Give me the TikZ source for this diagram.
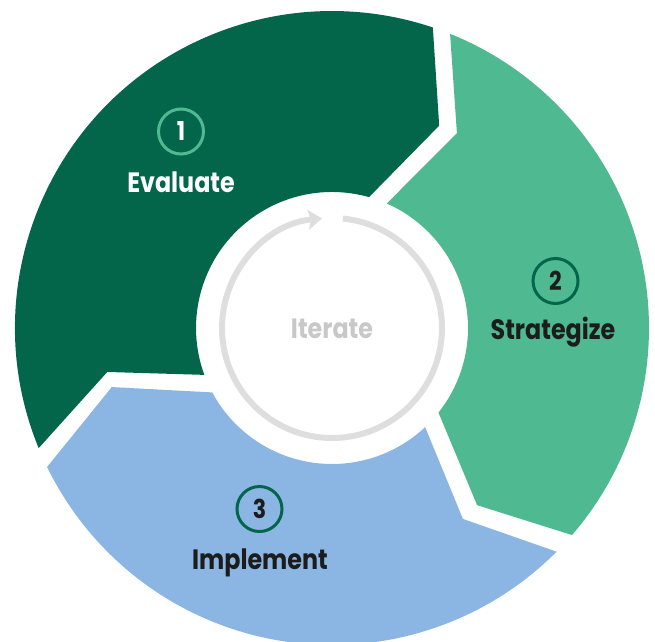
\documentclass[tikz,border=0pt]{standalone}
\usepackage{fontspec}
\setmainfont{Poppins}[BoldFont={Poppins Bold},FakeStretch=0.85]
\usetikzlibrary{arrows.meta}
\definecolor{evalgreen}{HTML}{03664A}
\definecolor{stratgreen}{HTML}{4FB991}
\definecolor{implblue}{HTML}{8BB6E3}
\definecolor{labeldark}{HTML}{1C1C1C}
\definecolor{loopgray}{HTML}{DEDEDE}
\definecolor{textgray}{HTML}{C8C8C8}

\begin{document}
\begin{tikzpicture}[x=1pt,y=1pt,
  numcircle/.style={circle,draw,line width=3pt,minimum size=45pt,inner sep=0pt,
    font=\fontsize{26}{26}\selectfont\bfseries},
  seglabel/.style={anchor=base,font=\fontsize{28}{28}\selectfont\bfseries}]
  \useasboundingbox (-332,-313) rectangle (323,328);
  % three arrow-shaped ring segments, running clockwise
  \fill[evalgreen] (202.27:317) arc[start angle=202.27,end angle=71.45,radius=317]
    -- (62.09:229) -- (74.2:136) arc[start angle=74.2,end angle=200.16,radius=136]
    -- (191.07:229) -- cycle;
  \fill[stratgreen] (68.13:317) arc[start angle=68.13,end angle=-40.78,radius=317]
    -- (-50.68:229) -- (-38.46:136) arc[start angle=-38.46,end angle=66.25,radius=136]
    -- (57.34:231.5) -- cycle;
  \fill[implblue] (-44.88:317) arc[start angle=-44.88,end angle=-154,radius=317]
    -- (-164.99:228) -- (-151.73:136) arc[start angle=-151.73,end angle=-46.77,radius=136]
    -- (-55.56:231.5) -- cycle;
  % loop in the middle
  \draw[loopgray,line width=6pt,-{Stealth[length=14pt,width=20pt,inset=3pt]}]
    (84.3:110) arc[start angle=84.3,end angle=-264.8,radius=110];
  \node[seglabel,text=textgray] (iterate) at (0,-10) {Iterate};
  % step numbers and names
  \node[numcircle,draw=stratgreen,text=white] (num1) at (-151,196.5) {1};
  \node[seglabel,text=white] (evaluate) at (-151,136) {Evaluate};
  \node[numcircle,draw=evalgreen,text=labeldark] (num2) at (223.5,47) {2};
  \node[seglabel,text=labeldark] (strategize) at (221,-11) {Strategize};
  \node[numcircle,draw=evalgreen,text=labeldark] (num3) at (-72.5,-181) {3};
  \node[seglabel,text=labeldark] (implement) at (-72,-241) {Implement};
\end{tikzpicture}
\end{document}
